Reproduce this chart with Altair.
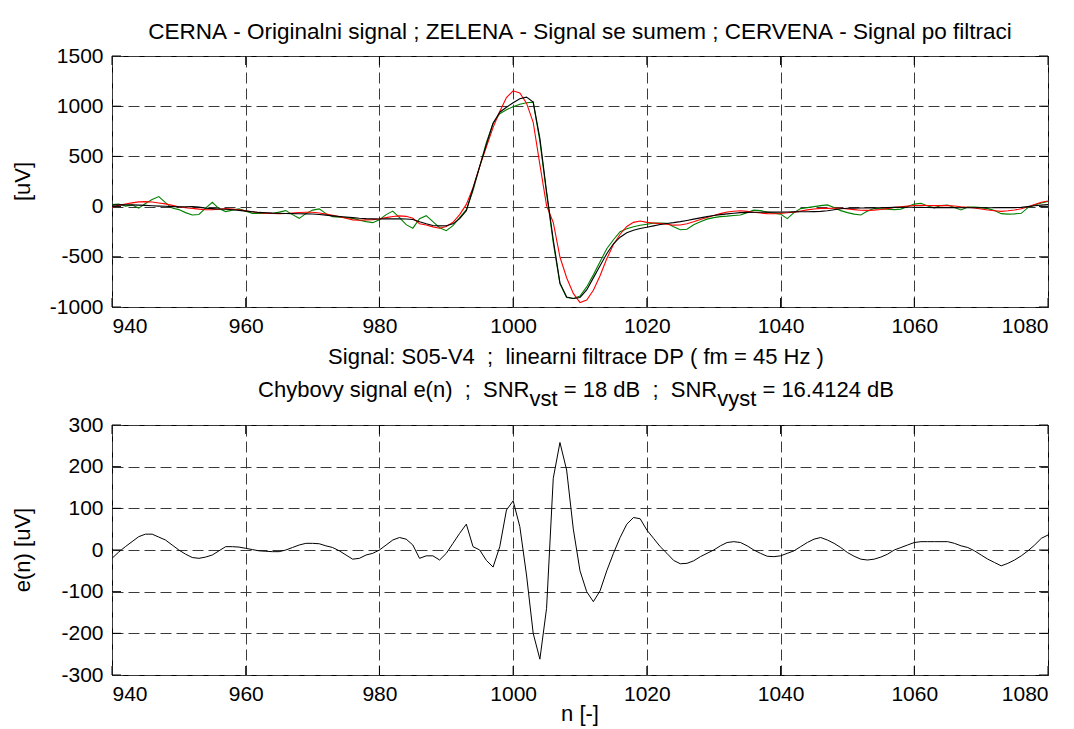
import altair as alt
import pandas as pd

FONT = "Liberation Sans"

# ---------------- data ----------------
n_samples = list(range(940, 1081))

original = [
    15, 17, 18, 17, 15, 12, 8, 5, 3, 0,
    -2, -2, 0, -5, -15, -20, -24, -27, -32, -38,
    -45, -52, -58, -62, -65, -66, -68, -70, -71, -72,
    -73, -78, -85, -92, -98, -104, -110, -116, -120, -122,
    -123, -122, -122, -122, -123, -128, -150, -170, -188, -192,
    -190, -172, -120, -40, 180, 400, 620, 830, 940, 990,
    1035, 1075, 1090, 1040, 680, 150, -330, -760, -900, -915,
    -905, -830, -710, -590, -470, -370, -305, -260, -235, -218,
    -205, -192, -178, -168, -160, -150, -138, -125, -112, -100,
    -88, -80, -72, -66, -60, -58, -57, -56, -55, -55,
    -55, -54, -53, -52, -51, -50, -48, -42, -32, -22,
    -17, -15, -14, -14, -13, -12, -10, -8, -7, -7,
    -7, -8, -9, -10, -10, -10, -10, -11, -12, -12,
    -12, -12, -11, -10, -10, -10, -8, 0, 8, 15,
    20,
]

noisy = [
    20, 25, 5, 15, -15, 30, 70, 100, 40, -15,
    -30, -60, -83, -78, -15, 43, -20, -50, -35, -23,
    -45, -67, -67, -67, -67, -55, -40, -80, -117, -70,
    -35, -23, -70, -100, -105, -110, -117, -135, -150, -160,
    -130, -80, -45, -110, -180, -215, -120, -90, -150, -210,
    -240, -190, -110, -30, 160, 400, 640, 830, 925, 965,
    995, 1020, 1035, 1040, 650, 130, -360, -770, -905, -915,
    -890, -800, -680, -550, -420, -330, -250, -220, -200, -185,
    -175, -165, -165, -167, -200, -230, -225, -180, -150, -125,
    -110, -100, -95, -88, -83, -60, -35, -40, -55, -65,
    -75, -120, -60, -20, -10, 0, 10, 17, -10, -40,
    -60, -75, -83, -45, -20, -22, -25, -30, -25, 0,
    25, 33, 5, -12, 10, 15, -10, -33, -5, -5,
    -10, -20, -40, -70, -75, -72, -67, -10, 17, 35,
    50,
]

filtered = [
    -5, 12, 26, 37, 47, 50, 46, 36, 27, 12,
    -2, -12, -18, -25, -32, -32, -26, -19, -24, -31,
    -41, -51, -60, -65, -69, -70, -68, -64, -59, -56,
    -57, -63, -75, -86, -100, -116, -132, -136, -132, -130,
    -123, -110, -98, -92, -97, -116, -170, -184, -202, -216,
    -198, -156, -80, 22, 188, 400, 595, 789, 948, 1086,
    1153, 1131, 1030, 840, 418, 10, -158, -502, -708, -865,
    -955, -930, -834, -688, -520, -378, -275, -198, -157, -143,
    -157, -164, -170, -176, -185, -183, -170, -151, -128, -108,
    -88, -70, -54, -46, -42, -48, -57, -64, -70, -71,
    -69, -62, -55, -44, -33, -24, -18, -18, -16, -16,
    -23, -30, -36, -38, -35, -29, -20, -8, -1, 5,
    11, 12, 11, 10, 10, 10, 6, -1, -6, -14,
    -24, -34, -41, -48, -42, -34, -22, -2, 20, 43,
    56,
]

error = [
    -20, -5, 8, 20, 32, 38, 38, 31, 24, 12,
    0, -10, -18, -20, -17, -12, -2, 8, 8, 7,
    4, 1, -2, -3, -4, -4, 0, 6, 12, 16,
    16, 15, 10, 6, -2, -12, -22, -20, -12, -8,
    0, 12, 24, 30, 26, 12, -20, -14, -14, -24,
    -8, 16, 40, 62, 8, 0, -25, -41, 8, 96,
    118, 56, -60, -200, -262, -140, 172, 258, 192, 50,
    -50, -100, -124, -98, -50, -8, 30, 62, 78, 75,
    48, 28, 8, -8, -25, -33, -32, -26, -16, -8,
    0, 10, 18, 20, 18, 10, 0, -8, -15, -16,
    -14, -8, -2, 8, 18, 26, 30, 24, 16, 6,
    -6, -15, -22, -24, -22, -17, -10, 0, 6, 12,
    18, 20, 20, 20, 20, 20, 16, 10, 6, -2,
    -12, -22, -30, -38, -32, -24, -14, -2, 12, 28,
    36,
]

x_ticks = [940, 960, 980, 1000, 1020, 1040, 1060, 1080]
y_ticks_top = [-1000, -500, 0, 500, 1000, 1500]
y_ticks_bot = [-300, -200, -100, 0, 100, 200, 300]

title_top = "CERNA - Originalni signal ; ZELENA - Signal se sumem ; CERVENA - Signal po filtraci"
xlabel_top = "Signal: S05-V4  ;  linearni filtrace DP ( fm = 45 Hz )"
title_bot_parts = [
    ("Chybovy signal e(n)  ;  SNR", False),
    ("vst", True),
    (" = 18 dB  ;  SNR", False),
    ("vyst", True),
    (" = 16.4124 dB", False),
]
ylabel_top = "[uV]"
ylabel_bot = "e(n) [uV]"
xlabel_bot = "n [-]"

# ---------------- layout ----------------
W = 936
H1 = 251
H2 = 250
TS = 22      # title font size
TICK = 9     # inward tick length

# Arial / Liberation Sans advance widths (per 1000 em)
ADV = {' ': 278, 'C': 722, 'h': 556, 'y': 500, 'b': 556, 'o': 556, 'v': 500,
       's': 500, 'i': 222, 'g': 556, 'n': 556, 'a': 556, 'l': 222, 'e': 556,
       '(': 333, ')': 333, ';': 278, 'S': 667, 'N': 722, 'R': 722, 't': 278,
       '=': 584, '.': 278, 'd': 556, 'B': 667}


def text_width(s, size):
    return sum(ADV.get(c, 556) for c in s) * size / 1000.0


def nb(s):
    return s.replace(" ", "\u00a0")


def txt(s, x, y, size=TS, angle=0, align="center", baseline="alphabetic"):
    return alt.Chart(pd.DataFrame({"t": [nb(s)]})).mark_text(
        align=align, baseline=baseline, fontSize=size, font=FONT,
        angle=angle, color="black"
    ).encode(x=alt.value(x), y=alt.value(y), text="t:N")


def bound_rule(x, y1, y2):
    return alt.Chart(pd.DataFrame({"k": [0]})).mark_rule(
        strokeOpacity=0, opacity=0
    ).encode(x=alt.value(x), y=alt.value(y1), y2=alt.value(y2))


LBL = "datum.value + ''"
x_scale = alt.Scale(domain=[940, 1080], nice=False, zero=False)
x_axis = alt.Axis(values=x_ticks, title=None, labelPadding=8, labelExpr=LBL)


def inner_ticks(xvals, yvals, y_scale, y_axis, height):
    """MATLAB-like inward tick marks on all four sides."""
    dx = pd.DataFrame({"tx": xvals})
    dy = pd.DataFrame({"ty": yvals})
    xs = alt.X("tx:Q", scale=x_scale, axis=x_axis)
    ys = alt.Y("ty:Q", scale=y_scale, axis=y_axis)
    return [
        alt.Chart(dx).mark_rule(color="black", strokeWidth=1).encode(
            x=xs, y=alt.value(height - TICK), y2=alt.value(height)),
        alt.Chart(dx).mark_rule(color="black", strokeWidth=1).encode(
            x=xs, y=alt.value(0), y2=alt.value(TICK)),
        alt.Chart(dy).mark_rule(color="black", strokeWidth=1).encode(
            y=ys, x=alt.value(0), x2=alt.value(TICK)),
        alt.Chart(dy).mark_rule(color="black", strokeWidth=1).encode(
            y=ys, x=alt.value(W - TICK), x2=alt.value(W)),
    ]


long_top = pd.DataFrame({
    "n": n_samples * 3,
    "value": noisy + filtered + original,
    "series": ["noisy"] * len(n_samples) + ["filtered"] * len(n_samples) + ["original"] * len(n_samples),
})

x_enc = alt.X("n:Q", scale=x_scale, axis=x_axis)
ys_top = alt.Scale(domain=[-1000, 1500], nice=False, zero=False)
ya_top = alt.Axis(values=y_ticks_top, title=None, labelPadding=9, labelExpr=LBL)
y_top = alt.Y("value:Q", scale=ys_top, axis=ya_top)

base_top = alt.Chart(long_top)
layers_top = []
for name, col in [("noisy", "#008000"), ("filtered", "#ff0000"), ("original", "#000000")]:
    layers_top.append(
        base_top.transform_filter(alt.datum.series == name)
        .mark_line(color=col, strokeWidth=1.1)
        .encode(x=x_enc, y=y_top)
    )

top = alt.layer(
    *layers_top,
    *inner_ticks(x_ticks, y_ticks_top, ys_top, ya_top, H1),
    txt(title_top, W / 2, -17, size=22.5),
    txt(ylabel_top, -82, H1 / 2, angle=270),
    bound_rule(-103, -47, H1 + 32),
).properties(width=W, height=H1)

# bottom panel
df_bot = pd.DataFrame({"n": n_samples, "e": error})
ys_bot = alt.Scale(domain=[-300, 300], nice=False, zero=False)
ya_bot = alt.Axis(values=y_ticks_bot, title=None, labelPadding=9, labelExpr=LBL)
y_bot = alt.Y("e:Q", scale=ys_bot, axis=ya_bot)
line_bot = alt.Chart(df_bot).mark_line(color="black", strokeWidth=1.0).encode(x=x_enc, y=y_bot)

total_w = sum(text_width(p, TS) for p, _ in title_bot_parts)
cx = W / 2 - 4 - total_w / 2
piece_layers = []
for p, sub in title_bot_parts:
    stripped = p.lstrip(" ")
    lead = text_width(p[: len(p) - len(stripped)], TS)
    piece_layers.append(txt(stripped, cx + lead, -19.5 if sub else -28.5, align="left"))
    cx += text_width(p, TS)

bottom = alt.layer(
    line_bot,
    *inner_ticks(x_ticks, y_ticks_bot, ys_bot, ya_bot, H2),
    txt(xlabel_top, W / 2 - 4, -60.7),
    *piece_layers,
    txt(ylabel_bot, -82, H2 / 2, angle=270),
    txt(xlabel_bot, W / 2, H2 + 46),
    bound_rule(-103, -83.7, H2),
).properties(width=W, height=H2)

chart = alt.vconcat(top, bottom, spacing=0).properties(
    padding={"left": 0, "top": 0, "right": 5, "bottom": 0}
).configure_view(
    stroke="black", strokeWidth=1
).configure_axis(
    labelFont=FONT, labelFontSize=21, labelColor="black",
    grid=True, gridColor="#3a3a3a", gridDash=[11, 5], gridWidth=1,
    ticks=False, domain=False
)

chart.save("out.html", embed_options={"renderer": "svg", "actions": False})
